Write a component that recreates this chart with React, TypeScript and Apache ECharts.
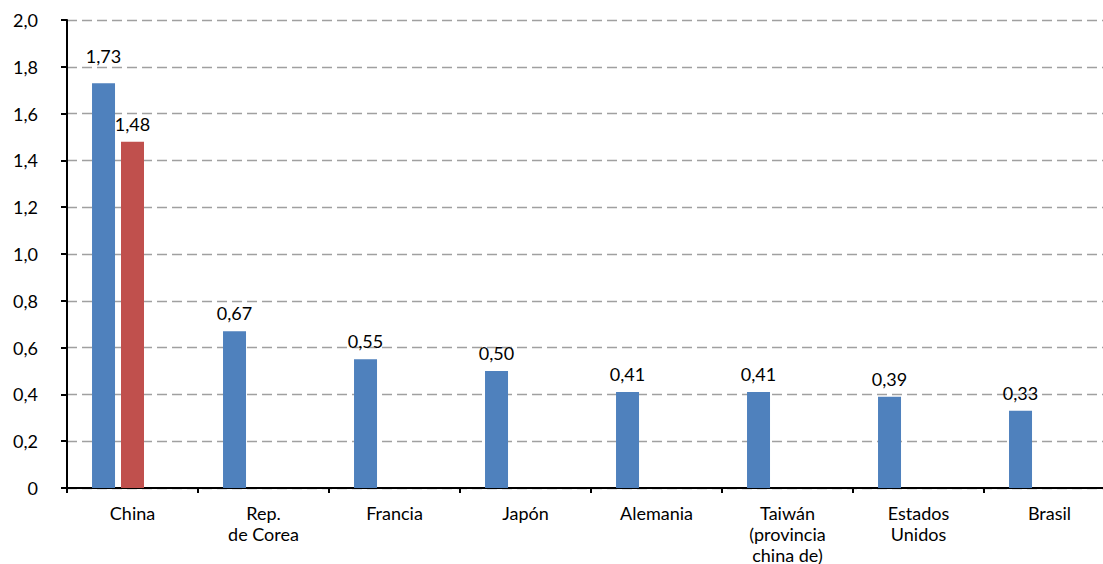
import React, { useEffect, useRef } from "react";
import * as echarts from "echarts";

const categories = [
  "China",
  "Rep.\nde Corea",
  "Francia",
  "Japón",
  "Alemania",
  "Taiwán\n(provincia\nchina de)",
  "Estados\nUnidos",
  "Brasil",
];
const seriesBlue = [1.73, 0.67, 0.55, 0.5, 0.41, 0.41, 0.39, 0.33];
const seriesRed = [1.48, null, null, null, null, null, null, null];
const seriesEmpty = [null, null, null, null, null, null, null, null];

const FONT = "Lato, 'Noto Sans', sans-serif";

const fmt = (v: number, digits: number) =>
  v === 0 ? "0" : v.toFixed(digits).replace(".", ",");

export default function App() {
  const ref = useRef<HTMLDivElement>(null);
  useEffect(() => {
    document.body.style.margin = "0";
    if (!ref.current) return;
    const chart = echarts.init(ref.current, null, { renderer: "svg" });
    const labelCfg = (digits: number) => ({
      show: true,
      position: "top" as const,
      distance: 9,
      color: "#000",
      fontFamily: FONT,
      fontSize: 18,
      formatter: (p: any) => (p.value == null ? "" : fmt(p.value, digits)),
    });
    const blueData = seriesBlue.map((v, i) =>
      i === 0 ? { value: v, label: { distance: 18 } } : v
    );
    chart.setOption({
      animation: false,
      grid: {
        left: 67,
        right: -12,
        top: 20,
        bottom: 76,
        containLabel: false,
        outerBoundsMode: "none",
      },
      xAxis: {
        type: "category",
        data: categories,
        axisLine: { lineStyle: { color: "#000", width: 2 } },
        axisTick: { show: true, length: 5, lineStyle: { color: "#000", width: 2 } },
        axisLabel: {
          color: "#000",
          fontFamily: FONT,
          fontSize: 18,
          lineHeight: 21,
          margin: 14,
          interval: 0,
        },
        splitLine: { show: false },
      },
      yAxis: {
        type: "value",
        min: 0,
        max: 2,
        interval: 0.2,
        axisLine: { show: true, lineStyle: { color: "#000", width: 2 } },
        axisTick: { show: true, length: 6, lineStyle: { color: "#000", width: 2 } },
        axisLabel: {
          color: "#000",
          fontFamily: FONT,
          fontSize: 18,
          margin: 29,
          formatter: (v: number) => fmt(v, 1),
        },
        splitLine: {
          show: true,
          lineStyle: { color: "#A0A0A0", width: 1.3, type: [10, 5] },
        },
      },
      series: [
        {
          type: "bar",
          data: blueData,
          barWidth: 23,
          barGap: "26%",
          itemStyle: { color: "#4F81BD" },
          label: labelCfg(2),
        },
        {
          type: "bar",
          data: seriesRed,
          barWidth: 23,
          barGap: "26%",
          itemStyle: { color: "#C0504D" },
          label: labelCfg(2),
        },
        {
          type: "bar",
          data: seriesEmpty,
          barWidth: 23,
          barGap: "26%",
          itemStyle: { color: "#9BBB59" },
        },
      ],
    });
    return () => chart.dispose();
  }, []);
  return <div ref={ref} style={{ width: 1103, height: 564 }} />;
}
